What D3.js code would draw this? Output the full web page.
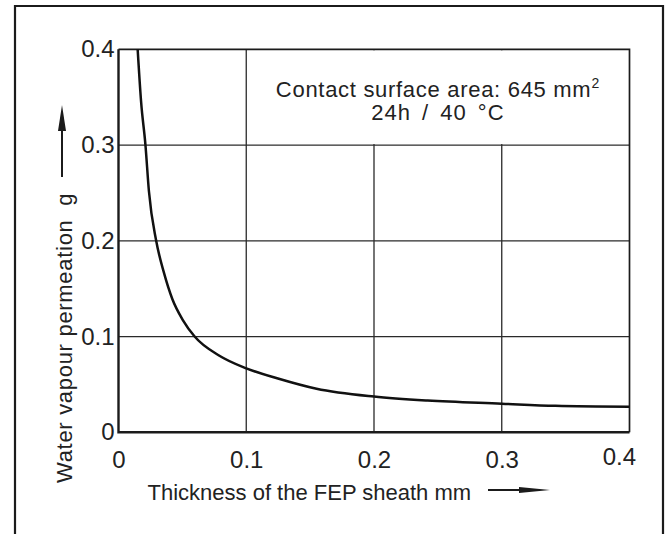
<!DOCTYPE html>
<html>
<head>
<meta charset="utf-8">
<script src="https://cdn.jsdelivr.net/npm/d3@7"></script>
<style>
  body { margin: 0; background: #fff; }
  text { font-family: "Liberation Sans", Arial, sans-serif; fill: #222; }
</style>
</head>
<body>
<div id="chart"></div>
<script>
// data (thickness mm -> water vapour permeation g)
var thickness  = [0.0150, 0.0177, 0.0211, 0.0238, 0.0295, 0.0355, 0.0422, 0.0505, 0.0596, 0.0790, 0.1000, 0.1248, 0.1550, 0.2000, 0.2420, 0.3000, 0.3420, 0.4000];
var permeation = [0.400, 0.345, 0.300, 0.252, 0.200, 0.167, 0.139, 0.117, 0.100, 0.080, 0.0668, 0.0562, 0.0455, 0.0373, 0.0331, 0.0299, 0.0277, 0.0267];
var xTicks = [0, 0.1, 0.2, 0.3, 0.4];
var yTicks = [0, 0.1, 0.2, 0.3, 0.4];
var xTitle = "Thickness of the FEP sheath mm";
var yTitle = "Water vapour permeation\u00a0\u00a0g";
var noteLines = ["Contact surface area: 645 mm", "24h / 40 \u00b0C"];

var width = 670, height = 534;
var ink = "#1b1b1b";

var svg = d3.select("#chart").append("svg")
    .attr("width", width)
    .attr("height", height);

// outer frame (open at the bottom)
svg.append("path")
    .attr("d", "M15," + height + "V6H663V" + height)
    .attr("fill", "none")
    .attr("stroke", ink)
    .attr("stroke-width", 2.2);

var x = d3.scaleLinear().domain([0, 0.4]).range([118.5, 629.5]);
var y = d3.scaleLinear().domain([0, 0.4]).range([432.3, 49.3]);

// grid
svg.append("g").selectAll("line")
    .data(xTicks.slice(1, -1))
    .enter().append("line")
    .attr("x1", function(d){ return x(d); })
    .attr("x2", function(d){ return x(d); })
    .attr("y1", y(0)).attr("y2", y(0.4))
    .attr("stroke", "#2a2a2a").attr("stroke-width", 1.3);
svg.append("g").selectAll("line")
    .data(yTicks.slice(1, -1))
    .enter().append("line")
    .attr("y1", function(d){ return y(d); })
    .attr("y2", function(d){ return y(d); })
    .attr("x1", x(0)).attr("x2", x(0.4))
    .attr("stroke", "#2a2a2a").attr("stroke-width", 1.3);

// white box for the note (top right cell block)
svg.append("rect")
    .attr("x", x(0.1) + 1).attr("y", y(0.4) + 1)
    .attr("width", x(0.4) - x(0.1) - 2)
    .attr("height", y(0.3) - y(0.4) - 2)
    .attr("fill", "#fff");

// top and right border of the plot
svg.append("path")
    .attr("d", "M" + x(0) + "," + y(0.4) + "H" + x(0.4) + "V" + y(0))
    .attr("fill", "none").attr("stroke", ink).attr("stroke-width", 1.7);

// the curve
svg.append("clipPath").attr("id", "plotClip")
    .append("rect")
    .attr("x", x(0)).attr("y", y(0.4))
    .attr("width", x(0.4) - x(0)).attr("height", y(0) - y(0.4));

var line = d3.line()
    .x(function(d, i){ return x(thickness[i]); })
    .y(function(d){ return y(d); })
    .curve(d3.curveMonotoneX);

svg.append("path")
    .datum(permeation)
    .attr("clip-path", "url(#plotClip)")
    .attr("d", line)
    .attr("fill", "none")
    .attr("stroke", "#111")
    .attr("stroke-width", 2.5)
    .attr("stroke-linejoin", "round");

// left and bottom axes, thicker
svg.append("path")
    .attr("d", "M" + x(0) + "," + y(0.4) + "V" + y(0) + "H" + x(0.4))
    .attr("fill", "none").attr("stroke", ink).attr("stroke-width", 2.4);

// tick labels
var fmt = function(d){ return d === 0 ? "0" : d3.format(".1f")(d); };

var xAxis = svg.append("g")
    .attr("transform", "translate(0," + y(0) + ")")
    .call(d3.axisBottom(x).tickValues(xTicks).tickSize(0).tickPadding(19).tickFormat(fmt));
xAxis.select(".domain").remove();
xAxis.selectAll("text")
    .style("font-family", "Liberation Sans, Arial, sans-serif")
    .style("font-size", "24px")
    .attr("fill", "#222");
// last label sits to the left and a bit higher
xAxis.selectAll(".tick").filter(function(d){ return d === 0.4; }).select("text")
    .attr("x", 6).attr("text-anchor", "end").attr("dy", "0.58em");

var yAxis = svg.append("g")
    .attr("transform", "translate(" + x(0) + ",0)")
    .call(d3.axisLeft(y).tickValues(yTicks).tickSize(0).tickPadding(4).tickFormat(fmt));
yAxis.select(".domain").remove();
yAxis.selectAll("text")
    .style("font-family", "Liberation Sans, Arial, sans-serif")
    .style("font-size", "24px")
    .attr("fill", "#222");

// axis titles with arrows
svg.append("text")
    .attr("x", 147.5).attr("y", 500)
    .style("font-size", "22px")
    .text(xTitle);
svg.append("line")
    .attr("x1", 488).attr("x2", 525).attr("y1", 490).attr("y2", 490)
    .attr("stroke", ink).attr("stroke-width", 2);
svg.append("path")
    .attr("d", "M519,487L550,490L519,493Z")
    .attr("fill", ink);

svg.append("text")
    .attr("transform", "translate(72,483) rotate(-90)")
    .style("font-size", "22px")
    .style("letter-spacing", "0.7px")
    .text(yTitle);
svg.append("line")
    .attr("x1", 62).attr("x2", 62).attr("y1", 177).attr("y2", 128)
    .attr("stroke", ink).attr("stroke-width", 2);
svg.append("path")
    .attr("d", "M58,131L62,105L66,131Z")
    .attr("fill", ink);

// note in the box
var cx = (x(0.1) + x(0.4)) / 2;
var note1 = svg.append("text")
    .attr("x", cx).attr("y", 97)
    .attr("text-anchor", "middle")
    .style("font-size", "22px")
    .style("letter-spacing", "0.7px")
    .text(noteLines[0]);
note1.append("tspan")
    .attr("dy", -9)
    .style("font-size", "14px")
    .text("2");
svg.append("text")
    .attr("x", cx).attr("y", 120)
    .attr("text-anchor", "middle")
    .style("font-size", "22px")
    .style("letter-spacing", "1px")
    .style("word-spacing", "4px")
    .text(noteLines[1]);
</script>
</body>
</html>
